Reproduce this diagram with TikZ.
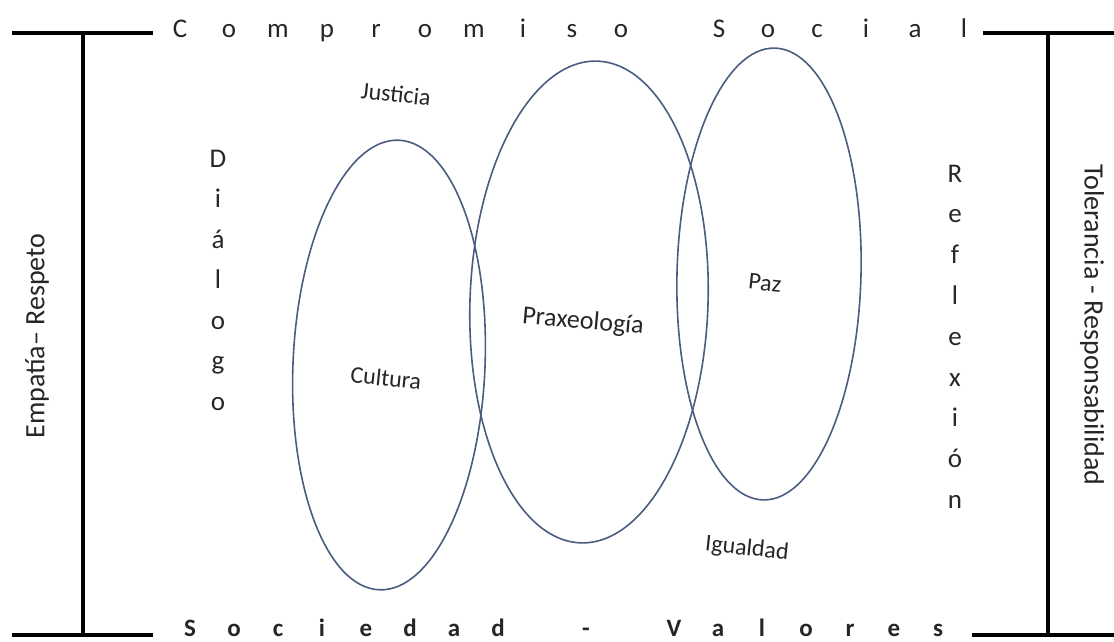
\documentclass[tikz,border=0pt]{standalone}
\usepackage{fontspec}
\setmainfont{Carlito}
\usepackage{xcolor}
\usepackage{tikz}
\usetikzlibrary{positioning}
\definecolor{ringblue}{RGB}{74,92,128}

\begin{document}
\begin{tikzpicture}[
    x=1pt, y=-1pt,
    bar/.style={line width=4pt, black},
    ring/.style={draw=ringblue, line width=1.6pt},
    spaced/.style={anchor=base, inner sep=0pt, text=black!85, font=\fontsize{27}{29}\selectfont},
    lowspaced/.style={spaced, font=\fontsize{25}{27}\selectfont\bfseries},
    side/.style={inner sep=0pt, text=black!85, font=\fontsize{28}{30}\selectfont},
    concept/.style={inner sep=0pt, text=black!85, font=\fontsize{24}{26}\selectfont, rotate=-6}
  ]
    \useasboundingbox (0,0) rectangle (1114,641);
    % brackets
    \draw[bar] (12,33) -- (153,33);
    \draw[bar] (83,33) -- (83,635);
    \draw[bar] (12,635) -- (153,635);
    \draw[bar] (983,33) -- (1114,33);
    \draw[bar] (1048,33) -- (1048,635);
    \draw[bar] (972,635) -- (1114,635);
    % rings
    \draw[ring] (389,365) ellipse[x radius=96, y radius=225, rotate=-2.5];
    \draw[ring] (589,302) ellipse[x radius=119, y radius=241, rotate=-2];
    \draw[ring] (769,274) ellipse[x radius=92, y radius=226, rotate=-1.5];
    % spaced words
    \foreach \ch [count=\i from 0] in {C,o,m,p,r,o,m,i,s,o}
      \node[spaced] (top\i) at ({180+49*\i},37) {\ch};
    \foreach \ch [count=\i from 11] in {S,o,c,i,a,l}
      \node[spaced] (top\i) at ({180+49*\i},37) {\ch};
    \foreach \ch [count=\i from 0] in {S,o,c,i,e,d,a,d}
      \node[lowspaced] (low\i) at ({190+44*\i},636) {\ch};
    \node[lowspaced] (low9) at (586,636) {-};
    \foreach \ch [count=\i from 11] in {V,a,l,o,r,e,s}
      \node[lowspaced] (low\i) at ({190+44*\i},636) {\ch};
    \foreach \ch [count=\i from 0] in {D,i,á,l,o,g,o}
      \node[spaced] (dia\i) at (218,{167+40.5*\i}) {\ch};
    \foreach \ch [count=\i from 0] in {R,e,f,l,e,x,i,ó,n}
      \node[spaced] (ref\i) at (955,{182+40.8*\i}) {\ch};
    % side labels
    \node[side, rotate=90] (empatia) at (37,336) {Empatía– Respeto};
    \node[side, rotate=-90] (tolerancia) at (1092,325) {Tolerancia - Responsabilidad};
    % concepts
    \node[concept] (justicia) at (396,94) {Justicia};
    \node[concept] (cultura) at (386,378) {Cultura};
    \node[concept, font=\fontsize{26}{28}\selectfont, rotate=1] (praxeologia) at (583,322) {Praxeología};
    \node[concept] (paz) at (765,283) {Paz};
    \node[concept] (igualdad) at (747,549) {Igualdad};
  \end{tikzpicture}
\end{document}
